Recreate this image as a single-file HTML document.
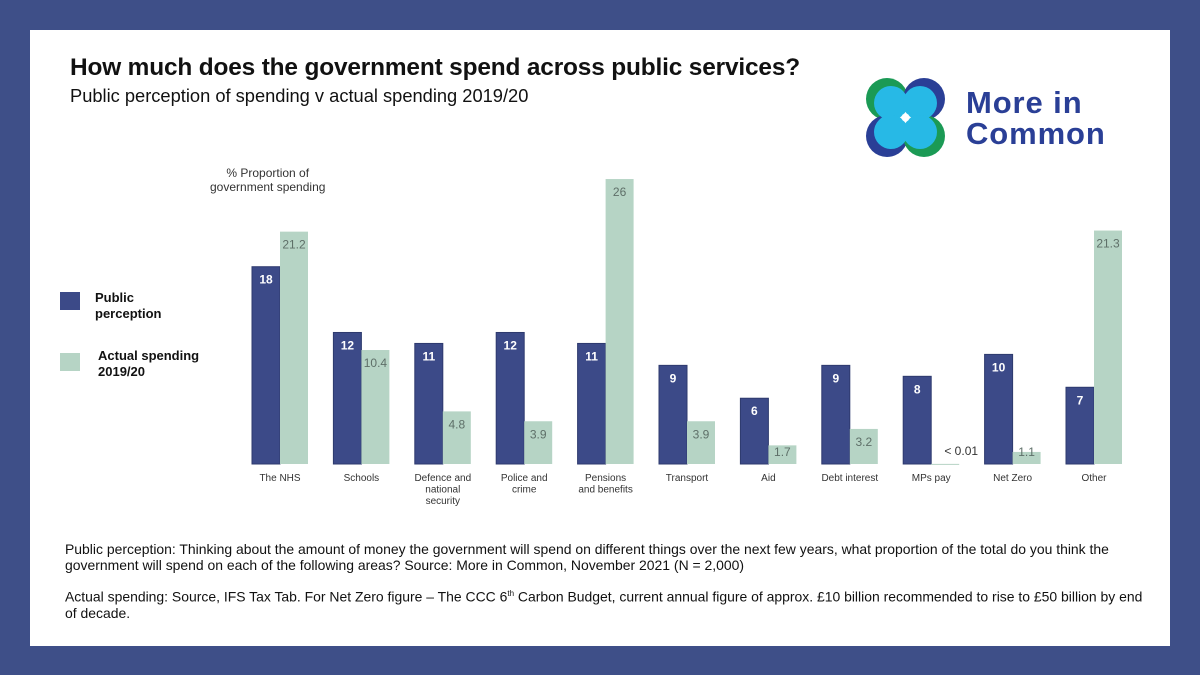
<!DOCTYPE html>
<html><head><meta charset="utf-8">
<style>
body{margin:0;width:1200px;height:675px;background:#3e4f88;position:relative;overflow:hidden;font-family:"Liberation Sans",sans-serif;}
#panel{position:absolute;left:30px;top:30px;width:1140px;height:616px;background:#fff;}
.t{position:absolute;white-space:nowrap;color:#111;}
</style></head><body>
<div id="panel"></div>
<div class="t" style="left:70px;top:54px;font-size:24.4px;font-weight:bold;letter-spacing:-0.15px">How much does the government spend across public services?</div>
<div class="t" style="left:70px;top:85px;font-size:18.3px;">Public perception of spending v actual spending 2019/20</div>
<svg style="position:absolute;left:860px;top:74px" width="270" height="90">
 <circle cx="27" cy="25" r="21" fill="#1b9a55"/><circle cx="64" cy="25" r="21" fill="#2a3f96"/>
 <circle cx="27" cy="62" r="21" fill="#2a3f96"/><circle cx="64" cy="62" r="21" fill="#1b9a55"/>
 <circle cx="31" cy="29" r="17" fill="#27b9e6"/><circle cx="60" cy="29" r="17" fill="#27b9e6"/>
 <circle cx="31" cy="58" r="17" fill="#27b9e6"/><circle cx="60" cy="58" r="17" fill="#27b9e6"/>
 <circle cx="45.5" cy="43.5" r="4" fill="#fff"/>
 <text x="106" y="39" font-family="Liberation Sans" font-weight="bold" font-size="31" letter-spacing="0.9" fill="#2a3f96">More in</text>
 <text x="106" y="70" font-family="Liberation Sans" font-weight="bold" font-size="31" letter-spacing="0.9" fill="#2a3f96">Common</text>
</svg>
<div class="t" style="left:210px;top:166px;font-size:12px;line-height:14px;color:#333;text-align:center">% Proportion of<br>government spending</div>
<div style="position:absolute;left:60px;top:292px;width:20px;height:18px;background:#3c4a88"></div>
<div class="t" style="left:95px;top:290px;font-size:13px;font-weight:bold;line-height:16px">Public<br>perception</div>
<div style="position:absolute;left:60px;top:353px;width:20px;height:18px;background:#b6d4c5"></div>
<div class="t" style="left:98px;top:348px;font-size:13px;font-weight:bold;line-height:16px">Actual spending<br>2019/20</div>
<svg id="chart" style="position:absolute;left:0;top:0" width="1200" height="520"></svg>
<div class="t" style="left:65px;top:541px;font-size:13.95px;line-height:16px">Public perception: Thinking about the amount of money the government will spend on different things over the next few years, what proportion of the total do you think the<br>government will spend on each of the following areas? Source: More in Common, November 2021 (N = 2,000)</div>
<div class="t" style="left:65px;top:586px;font-size:13.95px;line-height:16px">Actual spending: Source, IFS Tax Tab. For Net Zero figure – The CCC 6<sup style="font-size:8px">th</sup> Carbon Budget, current annual figure of approx. £10 billion recommended to rise to £50 billion by end<br>of decade.</div>
<script>
const categories=["The NHS","Schools","Defence and\nnational\nsecurity","Police and\ncrime","Pensions\nand benefits","Transport","Aid","Debt interest","MPs pay","Net Zero","Other"];
const perception=[18,12,11,12,11,9,6,9,8,10,7];
const actual=[21.2,10.4,4.8,3.9,26,3.9,1.7,3.2,0.01,1.1,21.3];
const actualLabels=["21.2","10.4","4.8","3.9","26","3.9","1.7","3.2","< 0.01","1.1","21.3"];
const svg=document.getElementById('chart');
const NS='http://www.w3.org/2000/svg';
const base=464, pxPer=10.96, x0=280, step=81.4, bw=28;
const yS=v=>base-v*pxPer;
function mk(tag,attrs){const e=document.createElementNS(NS,tag);for(const k in attrs)e.setAttribute(k,attrs[k]);svg.appendChild(e);return e;}
categories.forEach((c,i)=>{
 const cx=x0+i*step;
 const b1=mk('rect',{x:cx-bw,y:yS(perception[i]),width:bw,height:base-yS(perception[i]),fill:'#3c4a88',stroke:'#2e3a6e','stroke-width':1});
 
 
 const b2=mk('rect',{x:cx,y:yS(actual[i]),width:bw,height:Math.max(1,base-yS(actual[i])),fill:'#b6d4c5'});
 
 
 const t1=mk('text',{x:cx-bw/2,y:yS(perception[i])+17,'text-anchor':'middle','font-size':12,'font-weight':'bold',fill:'#fff','font-family':'Liberation Sans'});
 t1.textContent=perception[i];
 
 
 const small=actual[i]<1;
 const ly=small?yS(actual[i])-9:Math.min(yS(actual[i])+17,base-8);
 const t2=mk('text',{x:small?cx+bw/2+16:cx+bw/2,y:ly,'text-anchor':'middle','font-size':12,fill:small?'#333':'#5e6f68','font-family':'Liberation Sans'});
 t2.textContent=actualLabels[i];
 
 
 const lines=c.split('\n');
 lines.forEach((ln,j)=>{
  const tl=mk('text',{x:cx,y:481+j*11.5,'text-anchor':'middle','font-size':10,fill:'#333','font-family':'Liberation Sans'});
  tl.textContent=ln;
  
  
 });
});
</script>
</body></html>
